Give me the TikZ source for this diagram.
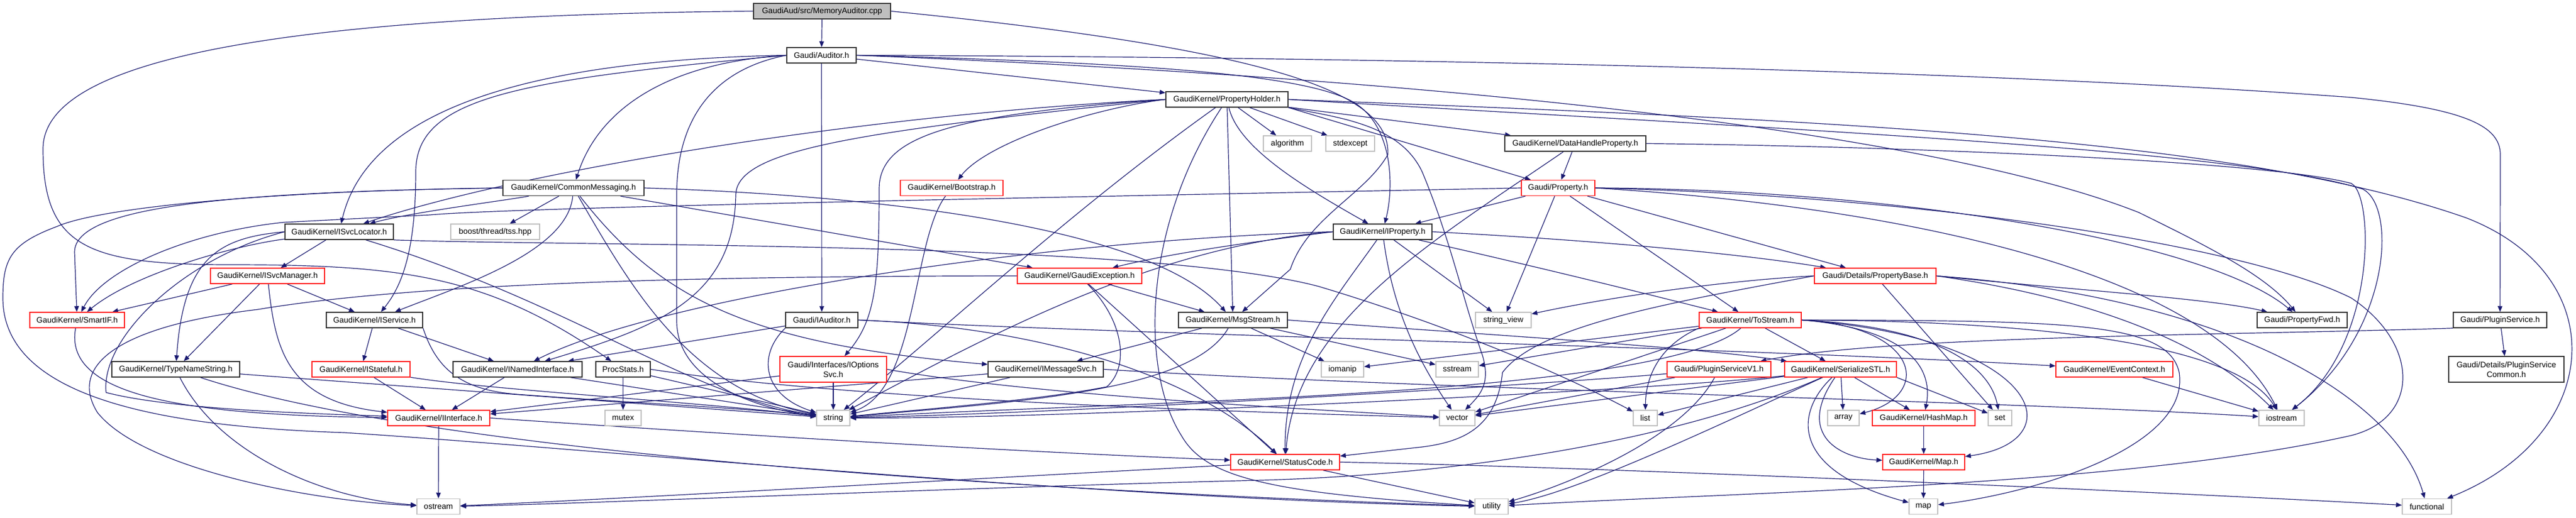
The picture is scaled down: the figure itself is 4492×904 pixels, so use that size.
\documentclass[tikz,border=0pt]{standalone}
\usepackage{fontspec}
\setmainfont{Liberation Sans}
\usetikzlibrary{arrows.meta}
\definecolor{edgec}{HTML}{191970}
\definecolor{redb}{HTML}{FF2020}
\definecolor{grayb}{HTML}{BFBFBF}
\definecolor{darkb}{HTML}{333333}
\pgfdeclarelayer{bglayer}
\pgfdeclarelayer{edgelayer}
\pgfsetlayers{bglayer,edgelayer,main}
\tikzset{
  box/.style={draw, line width=1.5pt, fill=white, minimum height=27pt, inner xsep=2pt, inner ysep=0pt, font=\fontsize{14pt}{17pt}\selectfont, align=center},
  nb/.style={box, draw=darkb},
  rb/.style={box, draw=redb},
  gb/.style={box, draw=grayb},
  mb/.style={box, draw=darkb, fill=grayb},
  conn/.style={draw=edgec, line width=1.2pt, -{Triangle[length=10pt,width=8pt]}},
}
\begin{document}
\begin{tikzpicture}[x=1pt,y=-1pt]
\begin{pgfonlayer}{bglayer}
\fill[white] (0,0) rectangle (4492,904);
\end{pgfonlayer}
\useasboundingbox (0,0) rectangle (4492,904);

\node[mb, minimum width=239pt] (cpp) at (1433.5,19.5) {GaudiAud/src/MemoryAuditor.cpp};
\node[nb, minimum width=121pt] (aud) at (1432.5,96.5) {Gaudi/Auditor.h};
\node[nb, minimum width=213pt] (ph) at (2139.5,173.5) {GaudiKernel/PropertyHolder.h};
\node[gb, minimum width=84pt] (algo) at (2245,250.5) {algorithm};
\node[gb, minimum width=85pt] (stdexc) at (2354.5,250.5) {stdexcept};
\node[nb, minimum width=246pt] (dhp) at (2747,250.5) {GaudiKernel/DataHandleProperty.h};
\node[nb, minimum width=246pt] (cm) at (1000,328) {GaudiKernel/CommonMessaging.h};
\node[rb, minimum width=179pt] (boot) at (1659.5,328) {GaudiKernel/Bootstrap.h};
\node[rb, minimum width=128pt] (prop) at (2717,328) {Gaudi/Property.h};
\node[nb, minimum width=189pt] (isl) at (591.5,404.5) {GaudiKernel/ISvcLocator.h};
\node[gb, minimum width=155pt] (boost) at (863.5,404.5) {boost/thread/tss.hpp};
\node[nb, minimum width=172pt] (iprop) at (2411,404.5) {GaudiKernel/IProperty.h};
\node[rb, minimum width=199pt] (ism) at (466.5,481.5) {GaudiKernel/ISvcManager.h};
\node[rb, minimum width=217pt] (gex) at (1882.5,481.5) {GaudiKernel/GaudiException.h};
\node[rb, minimum width=212pt] (pbase) at (3270,481.5) {Gaudi/Details/PropertyBase.h};
\node[rb, minimum width=165pt] (smart) at (134.5,558.5) {GaudiKernel/SmartIF.h};
\node[nb, minimum width=168pt] (isvc) at (653,558.5) {GaudiKernel/IService.h};
\node[nb, minimum width=126pt] (iaud) at (1433,558.5) {Gaudi/IAuditor.h};
\node[nb, minimum width=190pt] (msg) at (2150,558.5) {GaudiKernel/MsgStream.h};
\node[gb, minimum width=97pt] (sv) at (2621.5,558.5) {string\_view};
\node[rb, minimum width=178pt] (tos) at (3052,558.5) {GaudiKernel/ToStream.h};
\node[nb, minimum width=157pt] (pfwd) at (4014.5,558.5) {Gaudi/PropertyFwd.h};
\node[nb, minimum width=163pt] (psvc) at (4359.5,558.5) {Gaudi/PluginService.h};
\node[nb, minimum width=223pt] (tns) at (306.5,644.5) {GaudiKernel/TypeNameString.h};
\node[rb, minimum width=171pt] (istate) at (629.5,644.5) {GaudiKernel/IStateful.h};
\node[nb, minimum width=225pt] (inamed) at (902.5,644.5) {GaudiKernel/INamedInterface.h};
\node[nb, minimum width=95pt] (proc) at (1086.5,644.5) {ProcStats.h};
\node[rb, minimum width=186pt, minimum height=45pt] (iopt) at (1453,644.5) {Gaudi/Interfaces/IOptions\\Svc.h};
\node[nb, minimum width=201pt] (imsg) at (1823.5,644.5) {GaudiKernel/IMessageSvc.h};
\node[gb, minimum width=74pt] (iomanip) at (2341,644.5) {iomanip};
\node[gb, minimum width=74pt] (sstream) at (2541,644.5) {sstream};
\node[rb, minimum width=181pt] (psv1) at (2997.5,644.5) {Gaudi/PluginServiceV1.h};
\node[rb, minimum width=195pt] (sstl) at (3209.5,644.5) {GaudiKernel/SerializeSTL.h};
\node[rb, minimum width=204pt] (evctx) at (3687,644.5) {GaudiKernel/EventContext.h};
\node[nb, minimum width=201pt, minimum height=45pt] (pscom) at (4370.5,644.5) {Gaudi/Details/PluginService\\Common.h};
\node[rb, minimum width=178pt] (iint) at (765,729.5) {GaudiKernel/IInterface.h};
\node[gb, minimum width=63pt] (mutex) at (1086.5,729.5) {mutex};
\node[gb, minimum width=58pt] (string) at (1453,729.5) {string};
\node[gb, minimum width=62pt] (vector) at (2541,729.5) {vector};
\node[gb, minimum width=42pt] (list) at (2869,729.5) {list};
\node[gb, minimum width=55pt] (array) at (3214.5,729.5) {array};
\node[rb, minimum width=179pt] (hmap) at (3354.5,729.5) {GaudiKernel/HashMap.h};
\node[gb, minimum width=41pt] (set) at (3487.5,729.5) {set};
\node[gb, minimum width=79pt] (iostream) at (3978.5,729.5) {iostream};
\node[rb, minimum width=190pt] (sc) at (2241,806.5) {GaudiKernel/StatusCode.h};
\node[rb, minimum width=143pt] (mapH) at (3354.5,806.5) {GaudiKernel/Map.h};
\node[gb, minimum width=75pt] (ostream) at (764.5,884) {ostream};
\node[gb, minimum width=58pt] (utility) at (2601,884) {utility};
\node[gb, minimum width=50pt] (map) at (3354,884) {map};
\node[gb, minimum width=86pt] (functional) at (4232,884) {functional};

\begin{pgfonlayer}{edgelayer}
% MemoryAuditor.cpp
\draw[conn] (cpp) -- (aud);
\draw[conn] (cpp.east) .. controls (2260,90) and (2425,170) .. (2420,270) .. controls (2380,340) and (2280,380) .. (2250,470) -- (msg);
\draw[conn] (cpp.west) .. controls (400,28) and (75,120) .. (75,260) .. controls (75,430) and (150,462) .. (400,462) .. controls (700,462) and (850,480) .. (proc);
% Auditor.h
\draw[conn] (aud) -- (iaud);
\draw[conn] (aud) -- (ph);
\draw[conn] (aud.west) .. controls (1150,110) and (1040,200) .. (cm);
\draw[conn] (aud.west) .. controls (900,105) and (640,200) .. (isl);
\draw[conn] (aud.west) .. controls (900,140) and (725,170) .. (725,300) .. controls (725,440) and (700,500) .. (isvc);
\draw[conn] (aud.west) .. controls (1250,120) and (1180,200) .. (1180,340) -- (1180,560) .. controls (1180,670) and (1330,715) .. (string);
\draw[conn] (aud.east) .. controls (2000,110) and (2300,130) .. (2370,185) .. controls (2430,230) and (2430,330) .. (iprop);
\draw[conn] (aud.east) .. controls (2600,140) and (3400,240) .. (3730,371) .. controls (3850,430) and (3950,480) .. (pfwd);
\draw[conn] (aud.east) .. controls (2500,100) and (3500,125) .. (4100,170) .. controls (4300,190) and (4360,220) .. (4360,270) -- (psvc);
% PropertyHolder.h
\draw[conn] (ph) -- (algo);
\draw[conn] (ph) -- (stdexc);
\draw[conn] (ph) -- (dhp);
\draw[conn] (ph.south east) -- (prop);
\draw[conn] (ph.west) .. controls (1900,190) and (1720,250) .. (boot);
\draw[conn] (ph.west) .. controls (1500,200) and (900,300) .. (isl);
\draw[conn] (ph.west) .. controls (1500,230) and (1285,260) .. (1283,340) .. controls (1280,520) and (1150,570) .. (inamed);
\draw[conn] (ph.west) .. controls (1650,200) and (1533,240) .. (1533,330) .. controls (1533,500) and (1525,560) .. (iopt);
\draw[conn] (ph) .. controls (1850,380) and (1620,600) .. (string);
\draw[conn] (ph) .. controls (1990,400) and (1990,650) .. (2060,760) .. controls (2100,830) and (2200,860) .. (utility);
\draw[conn] (ph) -- (msg);
\draw[conn] (ph) .. controls (2160,260) and (2280,330) .. (iprop);
\draw[conn] (ph.south east) .. controls (2330,205) and (2440,215) .. (2480,300) .. controls (2530,420) and (2550,520) .. (2585,620) .. controls (2600,670) and (2580,690) .. (vector);
\draw[conn] (ph.east) .. controls (3200,210) and (3900,240) .. (4300,380) .. controls (4560,480) and (4540,760) .. (functional);
\draw[conn] (ph.east) .. controls (3100,225) and (3900,260) .. (4120,330) .. controls (4180,360) and (4170,580) .. (iostream);
% DataHandleProperty.h
\draw[conn] (dhp) -- (prop);
\draw[conn] (dhp) .. controls (2500,420) and (2260,560) .. (sc);
\draw[conn] (dhp.east) .. controls (3300,255) and (3950,280) .. (4100,320) .. controls (4140,340) and (4145,600) .. (iostream);
% Property.h
\draw[conn] (prop) -- (pbase);
\draw[conn] (prop) -- (tos);
\draw[conn] (prop) -- (sv);
\draw[conn] (prop) -- (iprop);
\draw[conn] (prop.west) .. controls (1800,345) and (900,362) .. (750,375) -- (495,388) .. controls (330,405) and (180,470) .. (smart);
\draw[conn] (prop.east) .. controls (3300,340) and (3900,420) .. (4100,520) .. controls (4220,600) and (4220,730) .. (4100,760) .. controls (3700,850) and (3000,860) .. (utility);
\draw[conn] (prop.east) .. controls (3300,360) and (3850,470) .. (iostream);
\draw[conn] (prop.east) .. controls (3300,330) and (3850,420) .. (pfwd);
% IProperty.h
\draw[conn] (iprop.west) .. controls (2200,420) and (2050,440) .. (gex);
\draw[conn] (iprop.west) .. controls (1800,420) and (1150,520) .. (inamed);
\draw[conn] (iprop.west) .. controls (2000,430) and (1700,600) .. (string);
\draw[conn] (iprop) .. controls (2330,520) and (2240,620) .. (sc);
\draw[conn] (iprop) .. controls (2430,550) and (2480,640) .. (vector);
\draw[conn] (iprop) -- (sv);
\draw[conn] (iprop) .. controls (2700,470) and (2900,520) .. (tos);
\draw[conn] (iprop.east) .. controls (2800,420) and (3050,445) .. (pbase);
% CommonMessaging.h
\draw[conn] (cm.west) .. controls (400,335) and (130,360) .. (130,440) -- (smart);
\draw[conn] (cm.west) .. controls (500,332) and (180,360) .. (100,395) .. controls (20,425) and (5,450) .. (5,520) .. controls (5,700) and (300,745) .. (600,755) .. controls (1000,780) and (1900,870) .. (utility);
\draw[conn] (cm) .. controls (880,350) and (720,370) .. (isl);
\draw[conn] (cm) -- (boost);
\draw[conn] (cm) .. controls (990,440) and (800,500) .. (isvc);
\draw[conn] (cm) .. controls (1100,500) and (1200,680) .. (string);
\draw[conn] (cm) .. controls (1150,520) and (1300,600) .. (imsg);
\draw[conn] (cm) -- (gex);
\draw[conn] (cm.east) .. controls (1500,340) and (2000,390) .. (msg);
% Bootstrap.h
\draw[conn] (boot) .. controls (1590,420) and (1600,680) .. (string);
% ISvcLocator.h
\draw[conn] (isl) -- (ism);
\draw[conn] (isl) .. controls (400,430) and (230,480) .. (smart);
\draw[conn] (isl.west) .. controls (320,450) and (175,590) .. (185,685) .. controls (300,715) and (550,722) .. (iint);
\draw[conn] (isl.west) .. controls (380,415) and (320,450) .. (tns);
\draw[conn] (isl) .. controls (1000,530) and (1200,690) .. (string);
\draw[conn] (isl.south east) .. controls (1000,430) and (2000,420) .. (2300,500) .. controls (2500,560) and (2700,640) .. (list);
% ISvcManager.h
\draw[conn] (ism) -- (smart);
\draw[conn] (ism) -- (tns);
\draw[conn] (ism) -- (isvc);
\draw[conn] (ism) .. controls (480,610) and (500,700) .. (iint);
% SmartIF.h
\draw[conn] (smart) .. controls (110,690) and (320,725) .. (iint);
% IService.h
\draw[conn] (isvc) -- (istate);
\draw[conn] (isvc.south east) .. controls (760,640) and (800,680) .. (900,688) .. controls (1100,703) and (1300,712) .. (string);
\draw[conn] (isvc) -- (inamed);
% TypeNameString.h
\draw[conn] (tns) .. controls (380,790) and (560,870) .. (ostream);
\draw[conn] (tns) .. controls (700,775) and (1600,850) .. (utility);
\draw[conn] (tns) -- (string);
% IStateful.h
\draw[conn] (istate) -- (iint);
\draw[conn] (istate) .. controls (850,680) and (1200,700) .. (string);
% INamedInterface.h
\draw[conn] (inamed) -- (iint);
\draw[conn] (inamed) -- (string);
% ProcStats.h
\draw[conn] (proc) -- (mutex);
\draw[conn] (proc) -- (string);
\draw[conn] (proc.east) .. controls (1500,700) and (2200,720) .. (vector);
% IAuditor.h
\draw[conn] (iaud) -- (inamed);
\draw[conn] (iaud.south west) .. controls (1320,620) and (1330,690) .. (string);
\draw[conn] (iaud.east) .. controls (2000,585) and (3000,605) .. (evctx);
\draw[conn] (iaud.east) .. controls (1800,570) and (2080,650) .. (sc);
% IOptionsSvc.h
\draw[conn] (iopt) -- (string);
\draw[conn] (iopt) -- (iint);
\draw[conn] (iopt.east) .. controls (1800,690) and (2300,715) .. (vector);
% IMessageSvc.h
\draw[conn] (imsg) -- (iint);
\draw[conn] (imsg) -- (string);
\draw[conn] (imsg.east) .. controls (2500,680) and (3500,700) .. (iostream);
% GaudiException.h
\draw[conn] (gex) .. controls (1960,560) and (1970,640) .. (1930,675) .. controls (1800,700) and (1600,715) .. (string);
\draw[conn] (gex) -- (sc);
\draw[conn] (gex) -- (msg);
\draw[conn] (gex.west) .. controls (1300,482) and (750,490) .. (450,540) .. controls (200,570) and (120,640) .. (170,720) .. controls (250,820) and (550,875) .. (ostream);
% MsgStream.h
\draw[conn] (msg) -- (imsg);
\draw[conn] (msg) .. controls (2080,680) and (1800,700) .. (string);
\draw[conn] (msg) -- (iomanip);
\draw[conn] (msg) -- (sstream);
\draw[conn] (msg.east) .. controls (2600,585) and (2950,605) .. (sstl);
% PropertyBase.h
\draw[conn] (pbase.west) .. controls (3000,490) and (2800,520) .. (sv);
\draw[conn] (pbase.west) .. controls (2900,530) and (2680,570) .. (2620,650) .. controls (2610,740) and (2560,770) .. (2480,780) -- (sc);
\draw[conn] (pbase) -- (set);
\draw[conn] (pbase.east) .. controls (3600,505) and (3850,520) .. (pfwd);
\draw[conn] (pbase.east) .. controls (3650,520) and (3850,600) .. (iostream);
\draw[conn] (pbase.east) .. controls (3900,520) and (4180,700) .. (functional);
% ToStream.h
\draw[conn] (tos) -- (sstl);
\draw[conn] (tos) -- (iomanip);
\draw[conn] (tos) -- (sstream);
\draw[conn] (tos) .. controls (2900,690) and (2000,700) .. (string);
\draw[conn] (tos) -- (vector);
\draw[conn] (tos.south west) .. controls (2900,600) and (2870,650) .. (list);
\draw[conn] (tos.east) .. controls (3350,570) and (3370,690) .. (array);
\draw[conn] (tos.east) .. controls (3340,575) and (3370,650) .. (hmap);
\draw[conn] (tos.east) .. controls (3380,570) and (3470,640) .. (set);
\draw[conn] (tos.east) .. controls (3560,590) and (3620,770) .. (mapH);
\draw[conn] (tos.east) .. controls (3600,560) and (3780,560) .. (3800,650) .. controls (3820,780) and (3550,860) .. (map);
\draw[conn] (tos.east) .. controls (3550,560) and (3900,600) .. (iostream);
% SerializeSTL.h
\draw[conn] (sstl) -- (array);
\draw[conn] (sstl) -- (hmap);
\draw[conn] (sstl.south east) -- (set);
\draw[conn] (sstl) .. controls (3130,760) and (3210,800) .. (mapH);
\draw[conn] (sstl) .. controls (3130,720) and (3120,820) .. (map);
\draw[conn] (sstl) -- (list);
\draw[conn] (sstl) -- (vector);
\draw[conn] (sstl) .. controls (3000,740) and (2750,860) .. (utility);
\draw[conn] (sstl) .. controls (2900,780) and (2500,830) .. (2200,838) .. controls (1700,850) and (1000,880) .. (ostream);
\draw[conn] (sstl) .. controls (2900,680) and (1900,730) .. (string);
% PluginServiceV1.h
\draw[conn] (psv1) .. controls (2700,670) and (1900,720) .. (string);
\draw[conn] (psv1) .. controls (2930,770) and (2720,850) .. (utility);
\draw[conn] (psv1) -- (vector);
% PluginService.h
\draw[conn] (psvc) -- (pscom);
\draw[conn] (psvc.south west) .. controls (3900,585) and (3300,585) .. (psv1);
% others
\draw[conn] (evctx) -- (iostream);
\draw[conn] (hmap) -- (mapH);
\draw[conn] (mapH) -- (map);
\draw[conn] (sc) .. controls (1800,830) and (1000,875) .. (ostream);
\draw[conn] (sc) -- (utility);
\draw[conn] (sc.east) .. controls (2800,815) and (3800,860) .. (functional);
\draw[conn] (iint) -- (ostream);
\draw[conn] (iint.east) .. controls (1300,760) and (1800,790) .. (sc);
\end{pgfonlayer}
\end{tikzpicture}
\end{document}
